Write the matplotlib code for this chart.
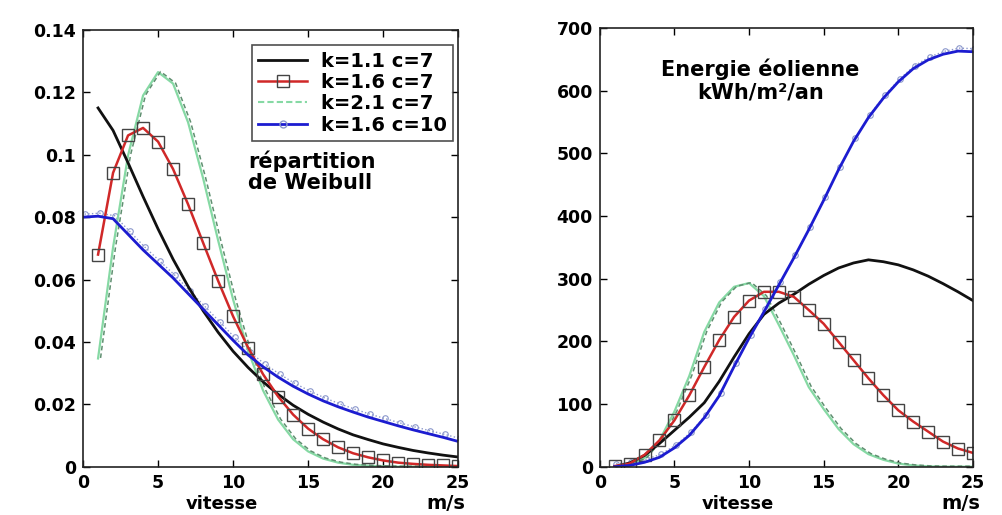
import matplotlib
import matplotlib.pyplot as plt
import matplotlib.transforms as mtransforms
from matplotlib.lines import Line2D
import numpy as np

matplotlib.use('Agg')

# wind speed (m/s)
speed0 = np.arange(0, 26)
speed1 = np.arange(1, 26)

# left: Weibull distributions
weib_k11_c7 = [0.1150, 0.1078, 0.0974, 0.0866, 0.0762, 0.0665, 0.0578, 0.0500, 0.0431,
               0.0370, 0.0318, 0.0272, 0.0232, 0.0197, 0.0168, 0.0143, 0.0121, 0.0102,
               0.0087, 0.0073, 0.0062, 0.0052, 0.0044, 0.0037, 0.0031]
weib_k16_c7 = [0.0680, 0.0942, 0.1062, 0.1086, 0.1042, 0.0954, 0.0841, 0.0718, 0.0596,
               0.0482, 0.0382, 0.0296, 0.0225, 0.0167, 0.0122, 0.0088, 0.0062, 0.0043,
               0.0030, 0.0020, 0.0013, 0.0009, 0.0006, 0.0004, 0.0002]
weib_k21_c7 = [0.0347, 0.0703, 0.0998, 0.1190, 0.1265, 0.1228, 0.1104, 0.0925, 0.0726,
               0.0536, 0.0372, 0.0244, 0.0151, 0.0088, 0.0049, 0.0026, 0.0013, 0.0006,
               0.0003, 0.0001, 0.0, 0.0, 0.0, 0.0, 0.0]
weib_k16_c10 = [0.0800, 0.0803, 0.0795, 0.0745, 0.0695, 0.0650, 0.0605, 0.0555, 0.0505,
                0.0455, 0.0405, 0.0358, 0.0320, 0.0287, 0.0258, 0.0233, 0.0211, 0.0192,
                0.0175, 0.0159, 0.0145, 0.0131, 0.0118, 0.0106, 0.0094, 0.0081]

# right: wind energy kWh/m2/year
energ_k11_c7 = [0, 6, 18, 37, 58, 79, 102, 136, 175, 212, 243, 261, 275, 291, 305,
                317, 325, 330, 327, 322, 314, 304, 292, 279, 265]
energ_k16_c7 = [1, 5, 19, 42, 74, 114, 159, 202, 239, 265, 279, 279, 271, 250, 228,
                199, 170, 141, 114, 90, 72, 56, 40, 29, 22]
energ_k21_c7 = [0, 3, 14, 42, 88, 145, 215, 262, 287, 293, 272, 226, 178, 127, 92,
                60, 36, 20, 11, 5, 2, 0.5, 0, 0, 0]
energ_k16_c10 = [0, 2, 7, 15, 30, 50, 78, 113, 160, 205, 247, 290, 333, 378, 425,
                 474, 519, 557, 588, 614, 635, 649, 658, 663, 662]

labels = ['k=1.1 c=7', 'k=1.6 c=7', 'k=2.1 c=7', 'k=1.6 c=10']
left_yticks = [0, 0.02, 0.04, 0.06, 0.08, 0.1, 0.12, 0.14]
left_yticklabels = ['0', '0.02', '0.04', '0.06', '0.08', '0.1', '0.12', '0.14']
right_yticks = [0, 100, 200, 300, 400, 500, 600, 700]
xticks = [0, 5, 10, 15, 20, 25]

BLACK = '#111111'
RED = '#d02828'
GREEN = '#86d9a4'
GREEN_D = '#5f8f70'
BLUE = '#1c1cd0'
BLUE_L = '#8c98cc'

plt.rcParams['font.family'] = 'DejaVu Sans'
plt.rcParams['font.weight'] = 'bold'

fig = plt.figure(figsize=(10.03, 5.15), dpi=100)
ax1 = fig.add_axes([0.0828, 0.0938, 0.374, 0.848])
ax2 = fig.add_axes([0.598, 0.0938, 0.372, 0.852])


def draw(ax, xb, yb, yk, yr, yg, yblue):
    green_shadow = mtransforms.offset_copy(ax.transData, fig=fig, x=2.5, y=0.5, units='dots')
    blue_shadow = mtransforms.offset_copy(ax.transData, fig=fig, x=1.5, y=3, units='dots')
    ax.plot(xb, yblue, ':', color=BLUE_L, lw=1, marker='o', ms=4, mfc='none',
            mec=BLUE_L, mew=0.8, transform=blue_shadow)
    ax.plot(speed1, yg, '-', color=GREEN, lw=1.6)
    ax.plot(speed1, yg, '--', color=GREEN_D, lw=1.1, dashes=(3, 2), transform=green_shadow)
    ax.plot(speed1, yk, '-', color=BLACK, lw=2)
    ax.plot(speed1, yr, '-', color=RED, lw=1.8, marker='s', ms=9, mfc='none',
            mec='#444444', mew=1)
    ax.plot(xb, yblue, '-', color=BLUE, lw=2)

    ax.set_xlim(0, 25)
    ax.set_xticks(xticks)
    ax.tick_params(direction='in', top=True, right=True, length=5, labelsize=12.5,
                   width=1, pad=5)
    for s in ax.spines.values():
        s.set_linewidth(1.2)
        s.set_color('#222222')
    ax.text(0.37, -0.085, 'vitesse', transform=ax.transAxes, ha='center', va='center',
            fontsize=13)
    ax.text(1.02, -0.085, 'm/s', transform=ax.transAxes, ha='right', va='center',
            fontsize=14)


draw(ax1, speed0, None, weib_k11_c7, weib_k16_c7, weib_k21_c7, weib_k16_c10)
ax1.set_ylim(0, 0.14)
ax1.set_yticks(left_yticks)
ax1.set_yticklabels(left_yticklabels)
ax1.text(0.44, 0.675, 'répartition\nde Weibull', transform=ax1.transAxes, ha='left',
         va='center', fontsize=15, linespacing=1.1)

handles = [
    Line2D([], [], color=BLACK, lw=2),
    Line2D([], [], color=RED, lw=1.8, marker='s', ms=9, mfc='none', mec='#444444'),
    Line2D([], [], color=GREEN, lw=1.5, ls='--', dashes=(3, 1.5)),
    Line2D([], [], color=BLUE, lw=2, marker='o', ms=5, mfc='none', mec=BLUE_L),
]
leg = ax1.legend(handles, labels, loc='upper right', bbox_to_anchor=(0.987, 0.966),
                 borderaxespad=0, fontsize=14, handlelength=2.5, handletextpad=0.7,
                 labelspacing=0.12, borderpad=0.35, frameon=True, fancybox=False,
                 numpoints=1)
leg.get_frame().set_edgecolor('#222222')
leg.get_frame().set_linewidth(1.2)

draw(ax2, speed1, None, energ_k11_c7, energ_k16_c7, energ_k21_c7, energ_k16_c10)
ax2.set_ylim(0, 700)
ax2.set_yticks(right_yticks)
ax2.text(0.43, 0.88, 'Energie éolienne\nkWh/m²/an', transform=ax2.transAxes, ha='center',
         va='center', fontsize=15, linespacing=1.15)

fig.savefig('out.png', dpi=100)
